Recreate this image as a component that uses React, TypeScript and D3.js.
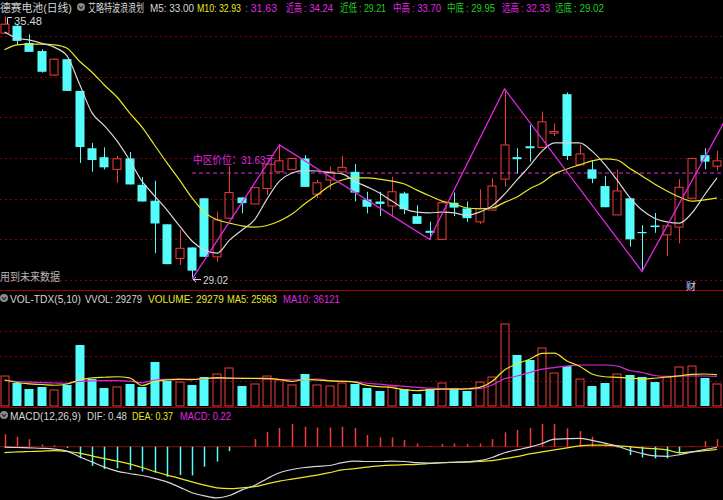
import * as d3 from "d3";
import { useLayoutEffect, useRef } from "react";

// K-line data (58 trading days)
const opens = [35.07, 35.25, 34.83, 34.63, 34.04, 34.43, 33.65, 32.24, 32.02, 31.72, 31.99, 31.34, 30.95, 30.37, 29.53, 29.8, 31.01, 29.57, 30.52, 31.03, 30.87, 31.25, 31.66, 31.72, 31.99, 31.11, 31.46, 31.66, 31.66, 30.98, 30.93, 30.82, 31.13, 30.57, 30.21, 30.0, 30.9, 30.76, 30.43, 30.72, 31.48, 32.02, 32.29, 32.26, 32.61, 33.57, 31.83, 31.72, 31.31, 30.6, 31.01, 30.18, 30.34, 30.11, 30.3, 31.01, 32.07, 31.8];
const highs = [35.48, 35.29, 35.04, 34.67, 34.45, 34.43, 33.65, 32.37, 32.26, 32.05, 32.15, 31.53, 31.44, 30.37, 30.23, 29.8, 31.01, 30.68, 31.79, 31.03, 31.27, 31.85, 32.32, 31.99, 32.07, 31.46, 31.79, 32.05, 31.85, 31.17, 31.17, 31.54, 31.17, 30.84, 30.43, 30.92, 31.15, 30.93, 31.23, 31.5, 33.7, 32.24, 32.81, 33.14, 32.85, 33.61, 32.32, 31.95, 31.56, 31.72, 31.01, 30.35, 30.65, 30.33, 31.48, 31.99, 32.24, 32.18];
const lows = [35.05, 34.78, 34.61, 34.1, 34.02, 33.65, 31.88, 31.66, 31.72, 31.39, 31.35, 30.93, 29.66, 29.39, 29.37, 29.02, 29.57, 29.45, 30.52, 30.64, 30.87, 31.09, 31.66, 31.72, 31.29, 31.01, 31.23, 31.66, 30.93, 30.64, 30.57, 30.56, 30.62, 30.38, 30.0, 30.0, 30.57, 30.43, 30.38, 30.72, 31.3, 31.62, 31.91, 32.26, 32.54, 31.95, 31.83, 31.38, 30.79, 30.6, 29.82, 29.21, 30.16, 29.59, 29.9, 31.01, 31.72, 31.69];
const closes = [35.29, 34.88, 34.61, 34.12, 34.43, 33.65, 32.27, 31.95, 31.77, 31.98, 31.35, 30.93, 30.39, 29.39, 29.78, 29.23, 29.57, 30.48, 31.15, 30.89, 31.27, 31.85, 31.93, 31.99, 31.29, 31.39, 31.66, 31.77, 31.15, 30.8, 30.87, 31.17, 30.74, 30.38, 30.16, 30.9, 30.78, 30.52, 30.76, 31.31, 32.32, 31.97, 32.24, 32.89, 32.65, 32.05, 32.1, 31.49, 30.79, 31.19, 30.0, 30.15, 30.3, 30.33, 31.28, 31.99, 31.91, 31.93];
const ma5 = [35.1, 34.95, 34.9, 34.82, 34.72, 34.51, 33.82, 33.11, 32.79, 32.42, 31.95, 31.43, 31.07, 30.72, 30.33, 29.96, 29.74, 29.66, 29.98, 30.23, 30.48, 30.99, 31.43, 31.63, 31.69, 31.68, 31.64, 31.61, 31.43, 31.29, 31.14, 30.94, 30.75, 30.67, 30.65, 30.67, 30.65, 30.59, 30.67, 30.82, 31.11, 31.46, 31.8, 32.17, 32.37, 32.37, 32.37, 32.17, 31.85, 31.46, 31.04, 30.72, 30.52, 30.43, 30.4, 30.65, 31.09, 31.51];
const ma10 = [34.66, 34.78, 34.8, 34.8, 34.78, 34.7, 34.38, 34.11, 33.79, 33.5, 33.11, 32.76, 32.32, 31.88, 31.46, 31.02, 30.67, 30.48, 30.4, 30.33, 30.3, 30.34, 30.45, 30.62, 30.87, 31.09, 31.31, 31.46, 31.51, 31.51, 31.48, 31.43, 31.36, 31.21, 31.07, 30.94, 30.87, 30.77, 30.75, 30.77, 30.91, 31.04, 31.24, 31.39, 31.61, 31.73, 31.83, 31.93, 31.98, 31.95, 31.75, 31.56, 31.36, 31.19, 31.04, 30.94, 30.97, 31.02];

const volumes = [39900, 30600, 22600, 25300, 21300, 28000, 81200, 35900, 24000, 25300, 29300, 25300, 58600, 33300, 31900, 28000, 38600, 42600, 50600, 26600, 29300, 39900, 34600, 28000, 42600, 28000, 26600, 30600, 29300, 24000, 20000, 25300, 22600, 16000, 22600, 30600, 24000, 20000, 31900, 38600, 109100, 67900, 61200, 77200, 43900, 53200, 35900, 26600, 30600, 42600, 41300, 38600, 31900, 38600, 51900, 53200, 37300, 29279];
const volMa5 = [34600, 31300, 29500, 28600, 27600, 29300, 34600, 37400, 38300, 38900, 37500, 27300, 32600, 34900, 35500, 35000, 36600, 37900, 37000, 36900, 36900, 36900, 35300, 32600, 35300, 34600, 33500, 32900, 31900, 27400, 25800, 24500, 21700, 20500, 21700, 22500, 22400, 22900, 24800, 32500, 47900, 56000, 62200, 70100, 70500, 59900, 53000, 42600, 38900, 38200, 37300, 35900, 36900, 38600, 40200, 42200, 42600, 41800];
const volMa10 = [34300, 32600, 31700, 31000, 30600, 30300, 32700, 33500, 33700, 33700, 33000, 30900, 34600, 35500, 35900, 35900, 36300, 36900, 36900, 36900, 36600, 35900, 35300, 34600, 35000, 35900, 33900, 32900, 32500, 30300, 29000, 27400, 26000, 24800, 23800, 23200, 22900, 22600, 23300, 28000, 36300, 39900, 44500, 49000, 51200, 53000, 54600, 54600, 54600, 53200, 47300, 44600, 40600, 39300, 39900, 39900, 39900, 39300];

const macdHist = [0.31, 0.25, 0.19, 0.06, 0.04, -0.03, -0.29, -0.48, -0.56, -0.54, -0.58, -0.62, -0.65, -0.75, -0.71, -0.72, -0.5, -0.37, -0.11, 0.01, 0.19, 0.37, 0.47, 0.57, 0.5, 0.48, 0.48, 0.5, 0.47, 0.29, 0.23, 0.23, 0.17, 0.08, 0.02, 0.07, 0.08, 0.07, 0.08, 0.19, 0.36, 0.42, 0.47, 0.57, 0.57, 0.46, 0.39, 0.25, 0.03, -0.02, -0.21, -0.27, -0.29, -0.29, -0.17, 0.02, 0.14, 0.19];
const dif = [-0.01, -0.02, -0.03, -0.04, -0.06, -0.11, -0.25, -0.38, -0.51, -0.61, -0.67, -0.72, -0.79, -0.88, -1.01, -1.15, -1.23, -1.28, -1.22, -1.08, -0.97, -0.8, -0.65, -0.57, -0.52, -0.49, -0.47, -0.4, -0.36, -0.37, -0.37, -0.36, -0.37, -0.4, -0.41, -0.4, -0.39, -0.38, -0.35, -0.27, -0.15, -0.08, -0.01, 0.08, 0.19, 0.2, 0.21, 0.16, 0.09, 0.02, -0.09, -0.17, -0.23, -0.24, -0.2, -0.13, -0.07, -0.02];
const dea = [-0.15, -0.13, -0.12, -0.11, -0.1, -0.12, -0.16, -0.23, -0.3, -0.36, -0.43, -0.52, -0.62, -0.71, -0.79, -0.88, -0.96, -1.03, -1.05, -1.03, -1.0, -0.93, -0.86, -0.81, -0.76, -0.71, -0.65, -0.58, -0.55, -0.51, -0.48, -0.46, -0.45, -0.44, -0.42, -0.4, -0.39, -0.38, -0.37, -0.35, -0.3, -0.25, -0.18, -0.13, -0.08, -0.03, 0.02, 0.04, 0.04, 0.02, 0.0, -0.03, -0.05, -0.08, -0.15, -0.13, -0.1, -0.07];

// wave (zigzag) turning points: bar index and price
const waveIdx = [15, 22, 34, 40, 51, 60];
const wavePrice = [29.02, 32.32, 30.0, 33.7, 29.21, 34.24];
const midPrice = 31.63;
const priceGrid = [29, 30, 31, 32, 33, 34, 35];
const volGrid = [33600, 67000, 100300];

const W = 723;
const H = 500;
const RED = "#f03c3c";
const CYAN = "#54fcfc";
const WHITE = "#d6d6d6";
const YELLOW = "#e8e826";
const MAGENTA = "#e028e0";
const GREEN = "#22d022";
const GRID = "#8a0000";
const FONT = "'Liberation Sans', 'Noto Sans CJK SC', sans-serif";

// header segments: text, left x, width, colour
const header = [
  { t: "德赛电池(日线)", x: 0, w: 72, c: WHITE },
  { t: "艾略特波浪浪划", x: 88, w: 56, c: WHITE },
  { t: "M5: 33.00", x: 150, w: 44, c: WHITE },
  { t: "M10: 32.93", x: 197, w: 44, c: YELLOW },
  { t: ": 31.63", x: 245, w: 32, c: MAGENTA },
  { t: "近高", x: 286, w: 16, c: MAGENTA },
  { t: ": 34.24", x: 304, w: 29, c: MAGENTA },
  { t: "近低", x: 340, w: 17, c: GREEN },
  { t: ": 29.21", x: 359, w: 27, c: GREEN },
  { t: "中高", x: 393, w: 17, c: MAGENTA },
  { t: ": 33.70", x: 412, w: 29, c: MAGENTA },
  { t: "中底", x: 447, w: 17, c: GREEN },
  { t: ": 29.95", x: 466, w: 29, c: GREEN },
  { t: "远高", x: 502, w: 17, c: MAGENTA },
  { t: ": 32.33", x: 521, w: 29, c: MAGENTA },
  { t: "远底", x: 555, w: 17, c: GREEN },
  { t: ": 29.02", x: 574, w: 30, c: GREEN },
];
const volHeader = [
  { t: "VOL-TDX(5,10)", x: 10, w: 71, c: WHITE },
  { t: "VVOL: 29279", x: 85, w: 57, c: WHITE },
  { t: "VOLUME: 29279", x: 148, w: 76, c: YELLOW },
  { t: "MA5: 25963", x: 227, w: 50, c: YELLOW },
  { t: "MA10: 36121", x: 283, w: 57, c: MAGENTA },
];
const macdHeader = [
  { t: "MACD(12,26,9)", x: 10, w: 71, c: WHITE },
  { t: "DIF: 0.48", x: 87, w: 40, c: WHITE },
  { t: "DEA: 0.37", x: 132, w: 41, c: YELLOW },
  { t: "MACD: 0.22", x: 180, w: 51, c: MAGENTA },
];

type Seg = { t: string; x: number; w: number; c: string };

// text squeezed horizontally to the width seen in the picture
function Label({ s, y, size = 11 }: { s: Seg; y: number; size?: number }) {
  const ref = useRef<SVGTextElement>(null);
  useLayoutEffect(() => {
    const el = ref.current;
    if (!el) return;
    const n = el.getComputedTextLength();
    if (n > 0) el.setAttribute("transform", `translate(${s.x},${y}) scale(${s.w / n},1)`);
  }, [s, y]);
  return (
    <text ref={ref} x={0} y={0} transform={`translate(${s.x},${y})`} fontSize={size} fill={s.c}>
      {s.t}
    </text>
  );
}

function Icon({ x, y }: { x: number; y: number }) {
  return (
    <g>
      <circle cx={x} cy={y} r={4} fill="#8c8c8c" />
      <path d={`M${x - 2},${y - 1} L${x},${y + 1.5} L${x + 2},${y - 1}`} stroke="#222" strokeWidth={1.2} fill="none" />
    </g>
  );
}

export default function App() {
  const idx = d3.range(opens.length);
  const x = d3.scaleLinear().domain([0, 57]).range([4.5, 717]);
  const yP = d3.scaleLinear().domain([29, 35]).range([280, 36]);
  const yV = d3.scaleLinear().domain([0, 110000]).range([406, 406 - 110000 / 1331]);
  const yM = d3.scaleLinear().domain([0, 1]).range([446.7, 406.7]);
  const half = 4.5;

  const lineP = (arr: number[]) =>
    d3.line<number>().x((_, i) => x(i)).y((d) => yP(d)).curve(d3.curveMonotoneX)(arr)!;
  const lineV = (arr: number[]) =>
    d3.line<number>().x((_, i) => x(i)).y((d) => yV(d)).curve(d3.curveMonotoneX)(arr)!;
  const lineM = (arr: number[]) =>
    d3.line<number>().x((_, i) => x(i)).y((d) => yM(d)).curve(d3.curveMonotoneX)(arr)!;
  const wave = d3.line<number>().x((d) => x(d)).y((_, i) => yP(wavePrice[i]))(waveIdx)!;

  const midLabel = { t: `中区价位：${midPrice}元`, x: 193, w: 82, c: MAGENTA };
  const highLabel = { t: String(highs[0]), x: 14, w: 28, c: WHITE };
  const lowLabel = { t: String(lows[15].toFixed(2)), x: 203, w: 25, c: WHITE };
  const futureLabel = { t: "用到未来数据", x: 0, w: 60, c: "#b8b8b8" };

  return (
    <svg width={W} height={H} style={{ position: "absolute", left: 0, top: 0, background: "#000" }} fontFamily={FONT}>
      <defs>
        <clipPath id="mainClip"><rect x={0} y={14} width={W} height={276} /></clipPath>
      </defs>
      <rect width={W} height={H} fill="#000" />

      {/* header */}
      <Icon x={81} y={7} />
      {header.map((h) => <Label key={h.x} s={h} y={12} />)}

      {/* main panel grid */}
      {priceGrid.map((p) => (
        <line key={p} x1={0} x2={W} y1={Math.round(yP(p)) + 0.5} y2={Math.round(yP(p)) + 0.5} stroke={GRID} strokeDasharray="2,3" />
      ))}
      <line x1={0} x2={W} y1={290.5} y2={290.5} stroke="#a00000" />

      <g clipPath="url(#mainClip)">
        {/* mid level dashed */}
        <line x1={x(15)} x2={W} y1={yP(midPrice)} y2={yP(midPrice)} stroke={MAGENTA} strokeDasharray="4,3" />

        {/* candles */}
        {idx.map((i) => {
          const up = closes[i] >= opens[i];
          const cx = Math.round(x(i));
          const top = yP(Math.max(opens[i], closes[i]));
          const bot = yP(Math.min(opens[i], closes[i]));
          const hgt = Math.max(1, bot - top);
          if (up) {
            return (
              <g key={i} stroke={RED} fill="none">
                <line x1={cx + 0.5} x2={cx + 0.5} y1={yP(highs[i])} y2={top} />
                <line x1={cx + 0.5} x2={cx + 0.5} y1={top + hgt} y2={yP(lows[i])} />
                <rect x={cx - half + 0.5} y={top} width={half * 2 - 1} height={hgt} />
              </g>
            );
          }
          return (
            <g key={i}>
              <line x1={cx + 0.5} x2={cx + 0.5} y1={yP(highs[i])} y2={yP(lows[i])} stroke={CYAN} />
              <rect x={cx - half} y={top} width={half * 2} height={hgt} fill={CYAN} />
            </g>
          );
        })}

        <path d={lineP(ma10)} fill="none" stroke={YELLOW} strokeWidth={1.2} />
        <path d={lineP(ma5)} fill="none" stroke={WHITE} strokeWidth={1.2} />
        <path d={wave} fill="none" stroke={MAGENTA} strokeWidth={1.3} />
      </g>

      {/* labels in main panel */}
      <Label s={midLabel} y={164} />
      <path d="M7.5,24 V17.5 H12" stroke={WHITE} fill="none" />
      <Label s={highLabel} y={25} />
      <line x1={193} x2={201} y1={279.5} y2={279.5} stroke={WHITE} />
      <path d="M193,279.5 l3,-2.5 M193,279.5 l3,2.5" stroke={WHITE} />
      <Label s={lowLabel} y={284} />
      <Label s={futureLabel} y={281} />
      <text x={686} y={290} fontSize={10} fill="#c8d4ff">财</text>

      {/* volume panel */}
      <Icon x={4} y={298} />
      {volHeader.map((h) => <Label key={h.x} s={h} y={303} />)}
      {volGrid.map((v) => (
        <line key={v} x1={0} x2={W} y1={Math.round(yV(v)) + 0.5} y2={Math.round(yV(v)) + 0.5} stroke={GRID} strokeDasharray="2,3" />
      ))}
      {idx.map((i) => {
        const up = closes[i] >= opens[i];
        const cx = Math.round(x(i));
        const top = yV(volumes[i]);
        return up ? (
          <rect key={i} x={cx - half + 0.5} y={top} width={half * 2 - 1} height={406 - top} fill="none" stroke={RED} />
        ) : (
          <rect key={i} x={cx - half} y={top} width={half * 2} height={406 - top} fill={CYAN} />
        );
      })}
      <path d={lineV(volMa10)} fill="none" stroke={MAGENTA} strokeWidth={1.2} />
      <path d={lineV(volMa5)} fill="none" stroke={YELLOW} strokeWidth={1.2} />
      <line x1={0} x2={W} y1={407.5} y2={407.5} stroke="#a00000" />

      {/* MACD panel */}
      <Icon x={4} y={415} />
      {macdHeader.map((h) => <Label key={h.x} s={h} y={420} />)}
      <line x1={0} x2={W} y1={yM(0)} y2={yM(0)} stroke="#8a1010" />
      {idx.map((i) => (
        <line key={i} x1={Math.round(x(i)) + 0.5} x2={Math.round(x(i)) + 0.5} y1={yM(0)} y2={yM(macdHist[i])}
          stroke={macdHist[i] >= 0 ? RED : CYAN} strokeWidth={1.5} />
      ))}
      <path d={lineM(dea)} fill="none" stroke={YELLOW} strokeWidth={1.2} />
      <path d={lineM(dif)} fill="none" stroke={WHITE} strokeWidth={1.2} />
    </svg>
  );
}
